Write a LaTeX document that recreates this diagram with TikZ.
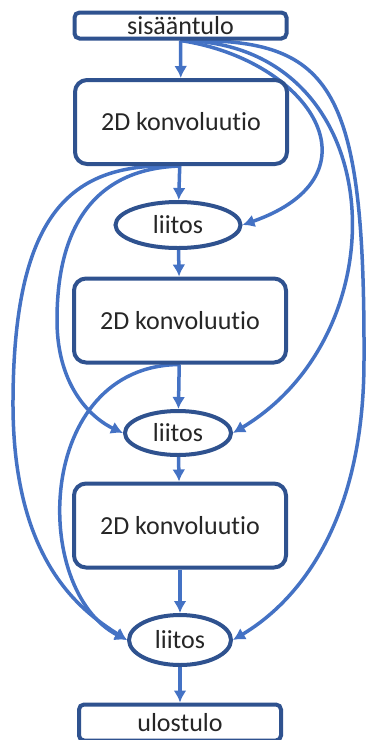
\documentclass[tikz,border=0pt]{standalone}
\usepackage{fontspec}
\setmainfont{Carlito}[Ligatures=NoCommon]
\usetikzlibrary{arrows.meta}
\usetikzlibrary{shapes.geometric}
\pgfdeclarelayer{edgelayer}
\pgfdeclarelayer{nodelayer}
\pgfsetlayers{edgelayer,nodelayer,main}
\definecolor{edgeblue}{HTML}{4472C4}
\definecolor{borderblue}{HTML}{2F528F}
\tikzstyle{block}=[rectangle,rounded corners=12pt,fill=white,draw=borderblue,line width=4pt,minimum width=212pt,minimum height=84pt,inner sep=0pt,text=black!85]
\tikzstyle{port}=[block,rounded corners=5pt,minimum height=26pt]
\tikzstyle{merge}=[ellipse,fill=white,draw=borderblue,line width=4pt,inner sep=0pt,text=black!85]
\tikzstyle{transition}=[-{Latex[length=12pt,width=13pt]},draw=edgeblue,line width=3.5pt]

\begin{document}
\begin{tikzpicture}[x=1pt,y=-1pt,font=\fontsize{26}{30}\selectfont]
	\useasboundingbox (0,0) rectangle (366,740);
	\begin{pgfonlayer}{nodelayer}
		\node [style=port] (0) at (180.5, 25.5) {sisääntulo};
		\node [style=block] (1) at (181, 122) {2D konvoluutio};
		\node [style=merge, minimum width=125pt, minimum height=46pt] (2) at (178, 225) {liitos};
		\node [style=block] (3) at (180, 320.5) {2D konvoluutio};
		\node [style=merge, minimum width=106pt, minimum height=44pt] (4) at (178, 433) {liitos};
		\node [style=block] (5) at (180, 525.5) {2D konvoluutio};
		\node [style=merge, minimum width=102pt, minimum height=50pt] (6) at (180, 640) {liitos};
		\node [style=port, minimum width=202pt, minimum height=36pt] (7) at (180, 722.5) {ulostulo};
	\end{pgfonlayer}
	\begin{pgfonlayer}{edgelayer}
		\draw [style=transition] (0) to (1);
		\draw [style=transition] (1) to (2);
		\draw [style=transition] (2) to (3);
		\draw [style=transition] (3) to (4);
		\draw [style=transition] (4) to (5);
		\draw [style=transition] (5) to (6);
		\draw [style=transition] (6) to (7);
		% skip connections on the right
		\draw [style=transition] (0.south) .. controls (310, 60) and (385, 175) .. (2.east);
		\draw [style=transition] (0.south) .. controls (390, 42) and (405, 330) .. (4.east);
		\draw [style=transition] (0.south) .. controls (330, 38) and (365, 80) .. (364, 360)
			.. controls (364, 520) and (300, 600) .. (6.east);
		% skip connections on the left
		\draw [style=transition] (1.south) .. controls (100, 168) and (57, 220) .. (57, 320)
			.. controls (57, 390) and (95, 420) .. (4.west);
		\draw [style=transition] (1.south) .. controls (80, 162) and (14, 200) .. (13, 400)
			.. controls (12, 560) and (80, 610) .. (6.west);
		\draw [style=transition] (3.south) .. controls (35, 365) and (30, 590) .. (6.west);
	\end{pgfonlayer}
\end{tikzpicture}
\end{document}
